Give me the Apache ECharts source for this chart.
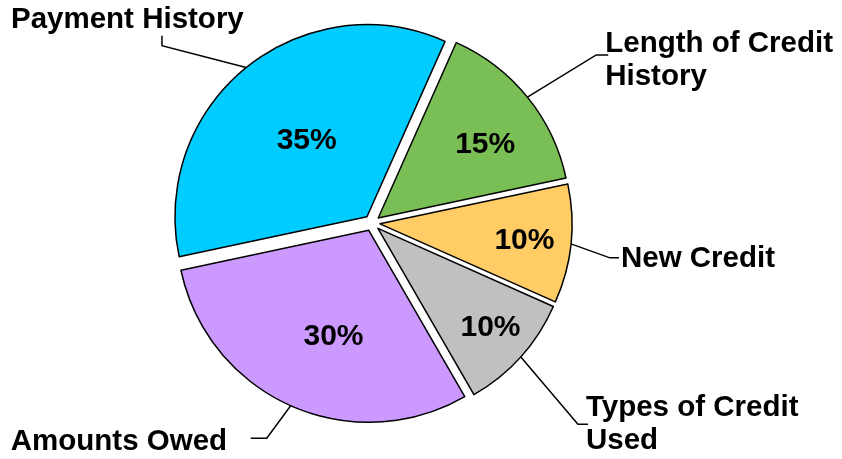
<!DOCTYPE html>
<html lang="en">
<head>
  <meta charset="UTF-8">
  <title>Credit score breakdown</title>
  <script src="https://cdn.jsdelivr.net/npm/echarts@6/dist/echarts.min.js"></script>
  <style>
    html, body { margin: 0; padding: 0; background: #fff; }
    #chart { width: 842px; height: 459px; }
  </style>
</head>
<body>
  <div id="chart"></div>
  <script>
    // data
    const categories = ['Payment History', 'Length of Credit\nHistory', 'New Credit', 'Types of Credit\nUsed', 'Amounts Owed']
    const shares = [35, 15, 10, 10, 30]
    const colors = ['#00CCFF', '#79BF55', '#FFCC66', '#C0C0C0', '#CC99FF']

    // layout / style
    const center = [372, 223]
    const radius = 192
    const startAngle = 192
    const explode = 8
    const font = "'Liberation Sans', Arial, sans-serif"
    // nudge of each % label from its default inside spot
    const pctShift = [[2, 1], [30, -11], [46, 7], [39, 33], [5, 16]]
    // outer labels: [left, middle, elbowX, elbowY, endX, endY]
    const outer = [
      [16, 26, 167, 52, 167, 42],
      [599, 65, 590, 60, 602, 60],
      [613, 258, 602, 257, 611, 257],
      [580, 419, 572, 419, 582, 419],
      [14, 435, 270, 431, 254, 431]
    ]

    const chart = echarts.init(document.getElementById('chart'), null, {renderer: 'canvas'})

    chart.setOption({
      animation: false,
      series: [
        {
          type: 'pie',
          center, radius,
          startAngle, clockwise: true,
          selectedMode: 'multiple',
          selectedOffset: explode,
          avoidLabelOverlap: false,
          silent: true,
          itemStyle: {borderColor: '#000', borderWidth: 1.5},
          select: {itemStyle: {borderColor: '#000', borderWidth: 1.5}},
          label: {
            position: 'inside',
            formatter: p => p.value + '%',
            color: '#000', fontFamily: font, fontWeight: 'bold', fontSize: 30
          },
          labelLine: {show: false},
          labelLayout: p => {
            const s = pctShift[p.dataIndex]
            return {dx: s[0], dy: s[1]}
          },
          data: categories.map((name, i) => ({
            name, value: shares[i], selected: true,
            itemStyle: {color: colors[i]}
          }))
        },
        {
          // same slices, invisible, only for the outside names
          type: 'pie',
          center, radius,
          startAngle, clockwise: true,
          selectedMode: 'multiple',
          selectedOffset: explode,
          avoidLabelOverlap: false,
          silent: true,
          itemStyle: {color: 'rgba(0,0,0,0)', borderWidth: 0},
          select: {itemStyle: {color: 'rgba(0,0,0,0)', borderWidth: 0}},
          label: {
            position: 'outside',
            formatter: p => p.name,
            color: '#000', fontFamily: font, fontWeight: 'bold', fontSize: 29.5, lineHeight: 33
          },
          labelLine: {show: true, length: 20, length2: 10, lineStyle: {color: '#000', width: 1.5}},
          labelLayout: p => {
            const o = outer[p.dataIndex]
            const r = p.labelRect
            const start = p.labelLinePoints ? p.labelLinePoints[0] : [o[2], o[3]]
            return {
              dx: o[0] - r.x,
              dy: o[1] - (r.y + r.height / 2),
              labelLinePoints: [start, [o[2], o[3]], [o[4], o[5]]]
            }
          },
          data: categories.map((name, i) => ({name, value: shares[i], selected: true}))
        }
      ]
    })
  </script>
</body>
</html>
